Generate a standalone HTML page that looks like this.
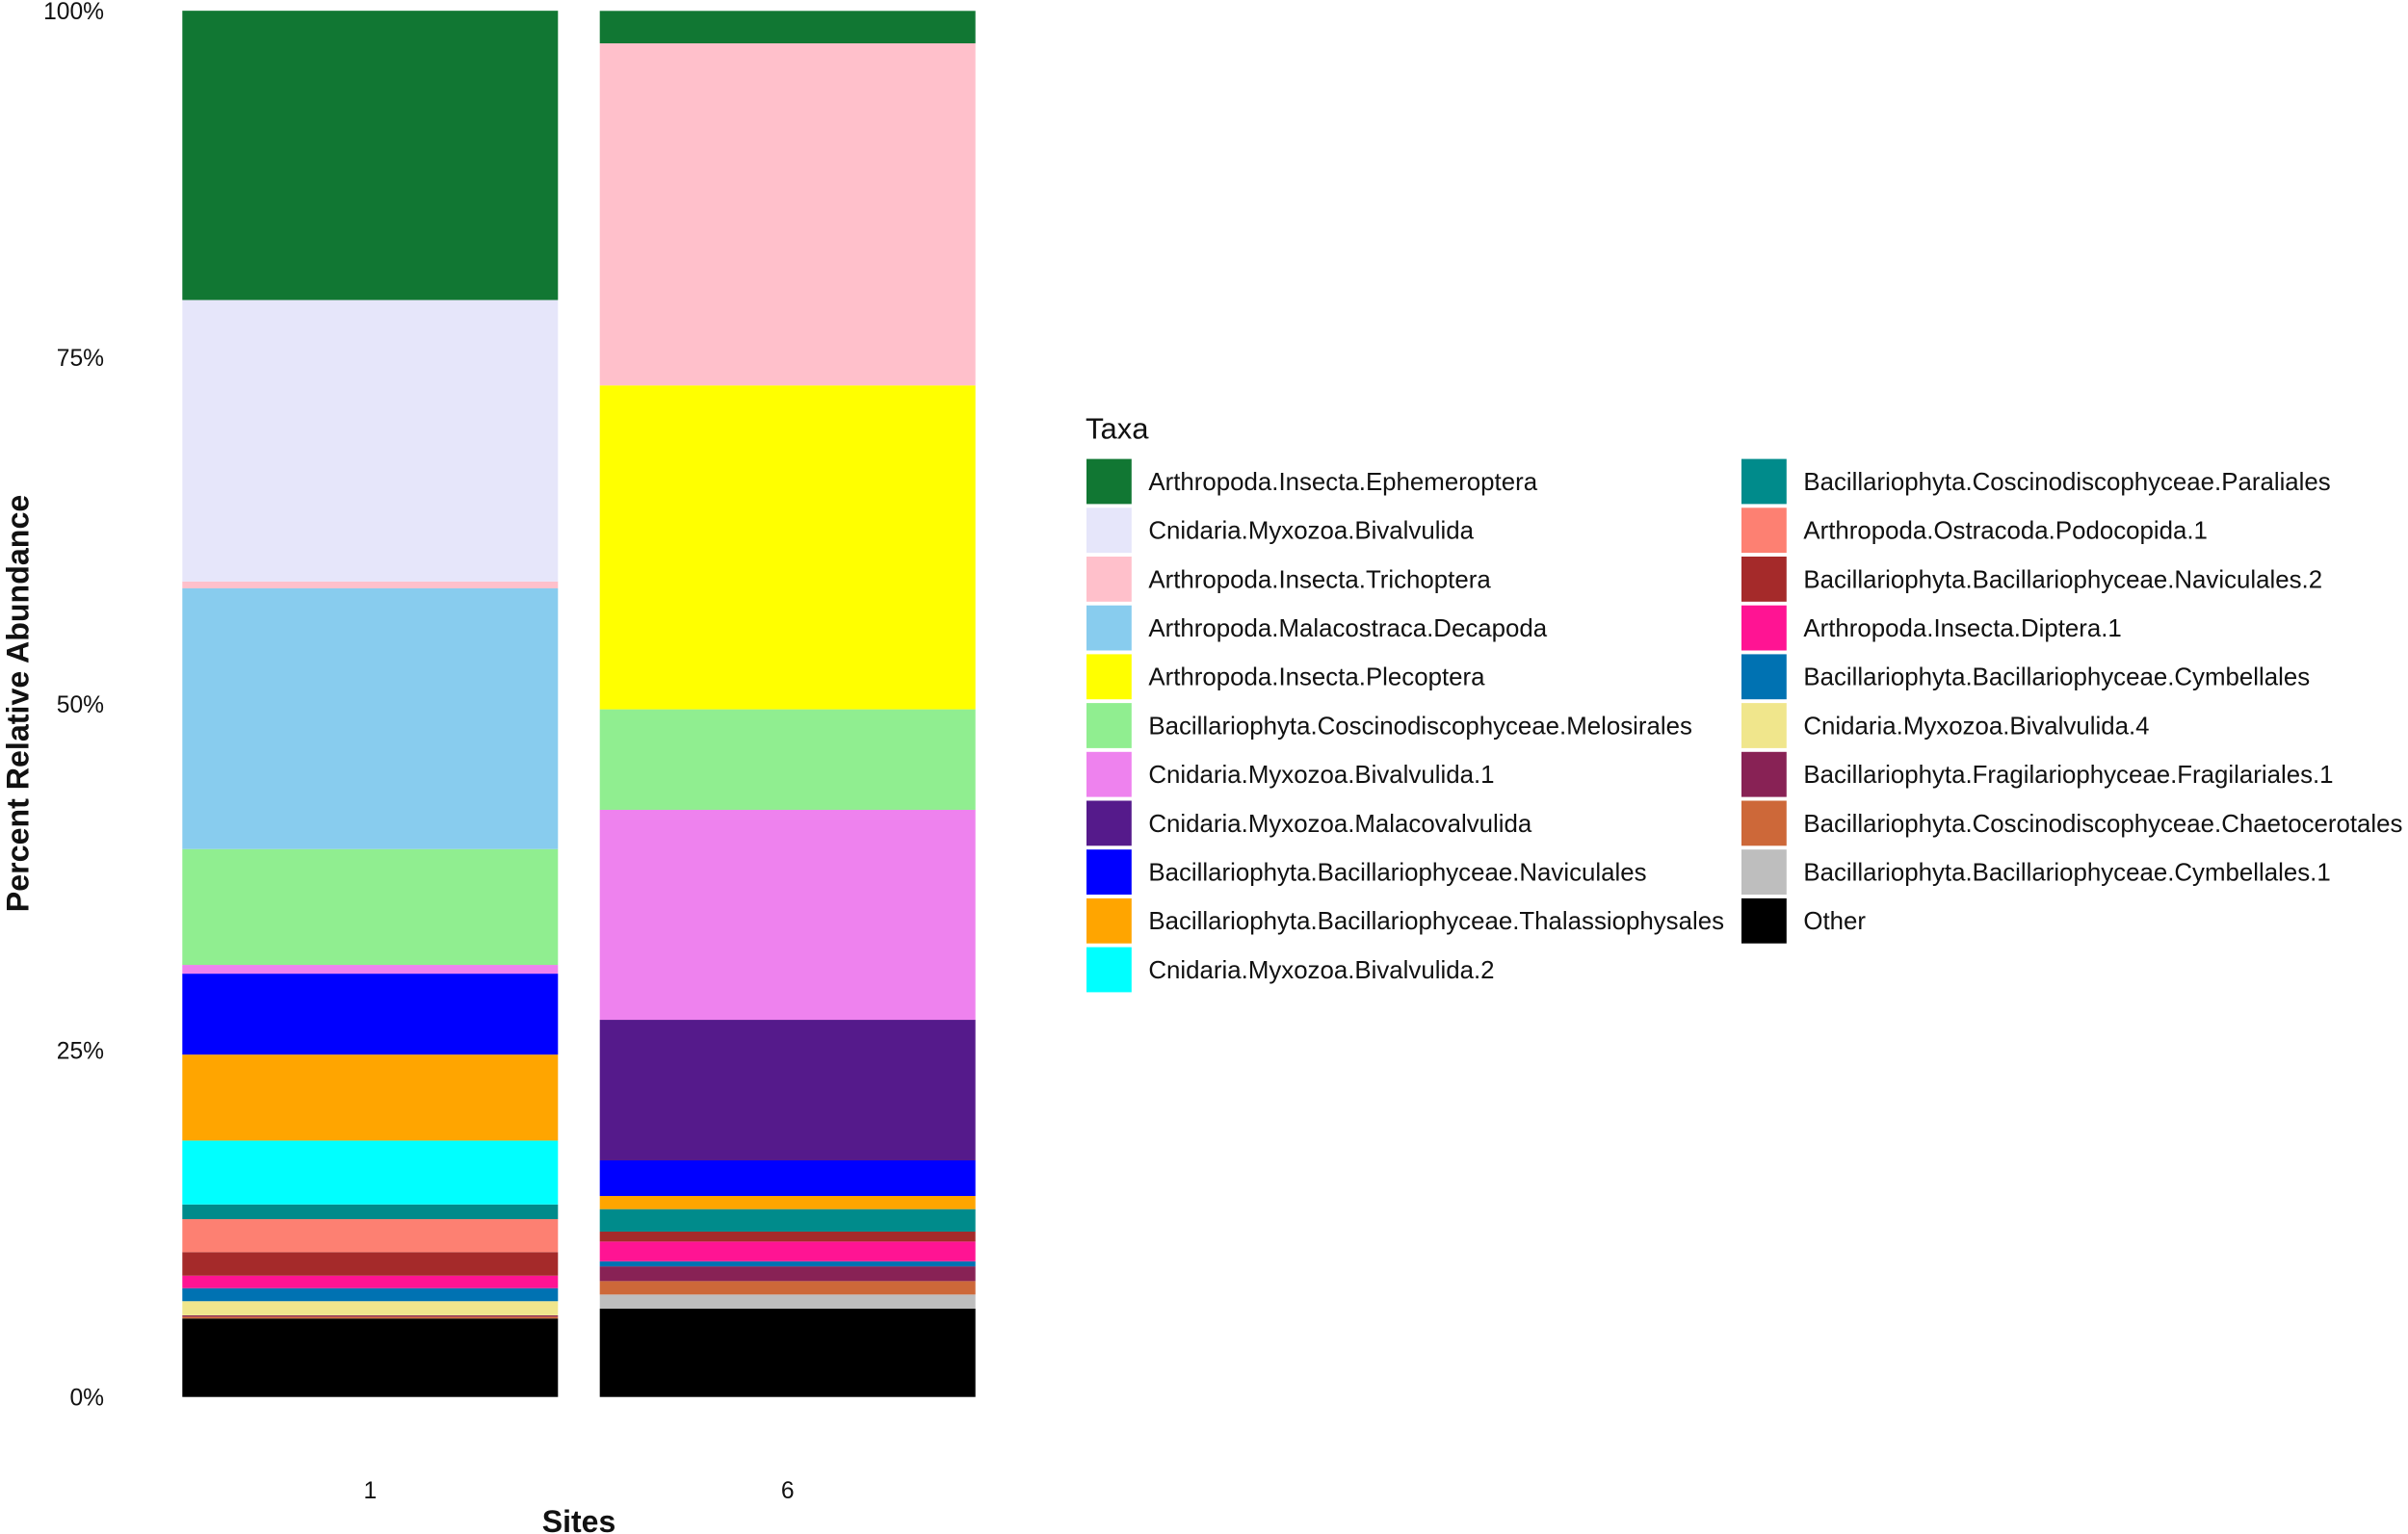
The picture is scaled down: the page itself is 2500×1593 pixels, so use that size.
<!DOCTYPE html>
<html lang="en">
<head>
<meta charset="utf-8">
<title>Percent Relative Abundance by Site</title>
<style>
  html, body { margin: 0; padding: 0; background: #ffffff; }
  #chart { display: block; width: 2500px; height: 1593px; font-family: "Liberation Sans", Arial, sans-serif; }
  text { fill: #111111; }
</style>
</head>
<body>
<svg id="chart" xmlns="http://www.w3.org/2000/svg" width="2500" height="1593" viewBox="0 0 2500 1593">
  <rect x="0" y="0" width="2500" height="1593" fill="#ffffff"></rect>
  <g id="bars"></g>
  <g id="y-ticks"></g>
  <g id="x-ticks"></g>
  <text transform="translate(29.3,730.5) rotate(-90)" text-anchor="middle" font-size="32.2" font-weight="bold">Percent Relative Abundance</text>
  <text x="601" y="1591" text-anchor="middle" font-size="32" font-weight="bold">Sites</text>
  <g id="legend">
    <text x="1127" y="455.5" font-size="31">Taxa</text>
  </g>
</svg>
<script>
const taxa = [
  "Arthropoda.Insecta.Ephemeroptera",
  "Cnidaria.Myxozoa.Bivalvulida",
  "Arthropoda.Insecta.Trichoptera",
  "Arthropoda.Malacostraca.Decapoda",
  "Arthropoda.Insecta.Plecoptera",
  "Bacillariophyta.Coscinodiscophyceae.Melosirales",
  "Cnidaria.Myxozoa.Bivalvulida.1",
  "Cnidaria.Myxozoa.Malacovalvulida",
  "Bacillariophyta.Bacillariophyceae.Naviculales",
  "Bacillariophyta.Bacillariophyceae.Thalassiophysales",
  "Cnidaria.Myxozoa.Bivalvulida.2",
  "Bacillariophyta.Coscinodiscophyceae.Paraliales",
  "Arthropoda.Ostracoda.Podocopida.1",
  "Bacillariophyta.Bacillariophyceae.Naviculales.2",
  "Arthropoda.Insecta.Diptera.1",
  "Bacillariophyta.Bacillariophyceae.Cymbellales",
  "Cnidaria.Myxozoa.Bivalvulida.4",
  "Bacillariophyta.Fragilariophyceae.Fragilariales.1",
  "Bacillariophyta.Coscinodiscophyceae.Chaetocerotales",
  "Bacillariophyta.Bacillariophyceae.Cymbellales.1",
  "Other"
];
const palette = [
  "#117733", "#E6E6FA", "#FFC0CB", "#88CCEE", "#FFFF00", "#90EE90", "#EE82EE",
  "#551A8B", "#0000FF", "#FFA500", "#00FFFF", "#008B8B", "#FD8072", "#A52A2A",
  "#FF1493", "#0072B2", "#F0E68C", "#882255", "#CD6839", "#BEBEBE", "#000000"
];
const sites = ["1", "6"];
const site1Values = [20.87, 20.31, 0.49, 18.81, 0, 8.36, 0.63, 0, 5.84, 6.20, 4.61, 1.06, 2.38, 1.70, 0.90, 0.94, 1.02, 0.09, 0.14, 0, 5.66];
const site6Values = [2.34, 0, 24.68, 0, 23.37, 7.25, 15.15, 10.14, 2.57, 0.95, 0, 1.62, 0, 0.72, 1.42, 0.37, 0, 1.06, 0.97, 1.02, 6.37];
const yTickValues = [0, 25, 50, 75, 100];
const yTickLabels = ["0%", "25%", "50%", "75%", "100%"];

const SVG_NS = "http://www.w3.org/2000/svg";
const plot = { bottom: 1450.7, top: 11.3, firstCenter: 384.3, step: 433.4, barWidth: 390 };
const legendLayout = { rowsInFirstColumn: 11, firstRowTop: 476.6, pitch: 50.7, swatch: 46.8, swatchX: [1128, 1808], textX: [1192.4, 1872.4] };

function yScale(v) { return plot.bottom - (v / 100) * (plot.bottom - plot.top); }
function xCenter(i) { return plot.firstCenter + i * plot.step; }

const barsGroup = document.getElementById("bars");
const siteSeries = [site1Values, site6Values];
siteSeries.forEach(function (values, s) {
  let cumulative = 0;
  for (let t = values.length - 1; t >= 0; t--) {
    const v = values[t];
    if (v <= 0) continue;
    const yTop = yScale(cumulative + v);
    const yBottom = yScale(cumulative);
    cumulative += v;
    const r = document.createElementNS(SVG_NS, "rect");
    
    
    r.setAttribute("x", xCenter(s) - plot.barWidth / 2);
    r.setAttribute("y", yTop);
    r.setAttribute("width", plot.barWidth);
    r.setAttribute("height", yBottom - yTop);
    r.setAttribute("fill", palette[t]);
    barsGroup.appendChild(r);
  }
});

const yTicksGroup = document.getElementById("y-ticks");
yTickValues.forEach(function (v, i) {
  const el = document.createElementNS(SVG_NS, "text");
  
  
  el.setAttribute("x", 108);
  el.setAttribute("y", yScale(v) + 8.8);
  el.setAttribute("text-anchor", "end");
  el.setAttribute("font-size", "24.6");
  el.textContent = yTickLabels[i];
  yTicksGroup.appendChild(el);
});

const xTicksGroup = document.getElementById("x-ticks");
sites.forEach(function (label, i) {
  const el = document.createElementNS(SVG_NS, "text");
  
  
  el.setAttribute("x", xCenter(i));
  el.setAttribute("y", 1556);
  el.setAttribute("text-anchor", "middle");
  el.setAttribute("font-size", "24.6");
  el.textContent = label;
  xTicksGroup.appendChild(el);
});

const legendGroup = document.getElementById("legend");
taxa.forEach(function (name, i) {
  const col = i < legendLayout.rowsInFirstColumn ? 0 : 1;
  const row = col === 0 ? i : i - legendLayout.rowsInFirstColumn;
  const rowTop = legendLayout.firstRowTop + row * legendLayout.pitch;

  const swatch = document.createElementNS(SVG_NS, "rect");
  
  
  swatch.setAttribute("x", legendLayout.swatchX[col]);
  swatch.setAttribute("y", rowTop);
  swatch.setAttribute("width", legendLayout.swatch);
  swatch.setAttribute("height", legendLayout.swatch);
  swatch.setAttribute("fill", palette[i]);
  legendGroup.appendChild(swatch);

  const label = document.createElementNS(SVG_NS, "text");
  
  
  label.setAttribute("x", legendLayout.textX[col]);
  label.setAttribute("y", rowTop + legendLayout.swatch / 2 + 8.9);
  label.setAttribute("font-size", "25.85");
  label.textContent = name;
  legendGroup.appendChild(label);
});
</script>
</body>
</html>
